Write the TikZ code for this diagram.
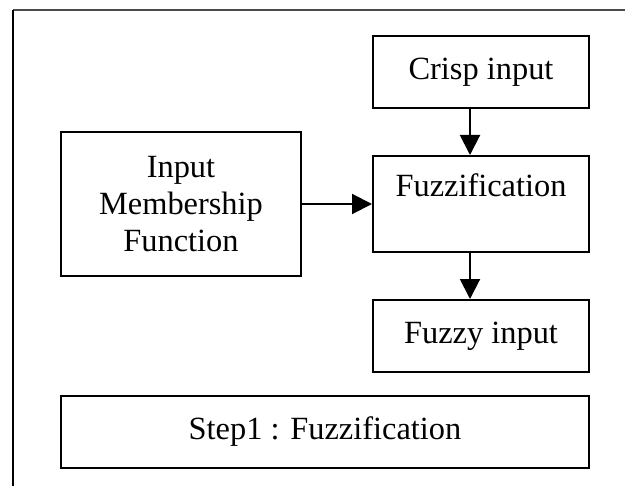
\documentclass[tikz,border=0pt]{standalone}
\usepackage{fontspec}
\setmainfont{Liberation Serif}
\usetikzlibrary{arrows.meta,positioning}

\begin{document}
\begin{tikzpicture}[x=0.5pt, y=-0.5pt,
  font=\fontsize{16.2pt}{18.6pt}\selectfont,
  blk/.style={draw, line width=1pt, align=center, inner sep=2pt},
  flow/.style={line width=1pt, -{Triangle[length=10pt,width=10pt]}}]
\useasboundingbox (0,0) rectangle (625,486);
% page frame, open at the bottom
\draw[black!70, line width=1pt] (13,10.5) -- (625,10.5);
\draw[line width=1pt] (13,10.5) -- (13,486);
\node[blk, minimum width=108pt, minimum height=36pt] (crisp) at (481,72) {Crisp input};
\node[blk, minimum width=108pt, minimum height=48pt] (fuzz) at (481,204) {Fuzzification\\~};
\node[blk, minimum width=108pt, minimum height=36pt] (fuzzy) at (481,336) {Fuzzy input};
\node[blk, minimum width=120pt, minimum height=72pt] (mf) at (181,204) {Input\\Membership\\Function};
\node[blk, minimum width=264pt, minimum height=36pt] (stepbox) at (325,432) {Step1 : Fuzzification};
\draw[flow] ([xshift=-5.5pt]crisp.south) -- ([xshift=-5.5pt]fuzz.north);
\draw[flow] ([xshift=-5.5pt]fuzz.south) -- ([xshift=-5.5pt]fuzzy.north);
\draw[flow] (mf.east) -- (fuzz.west);
\end{tikzpicture}
\end{document}
